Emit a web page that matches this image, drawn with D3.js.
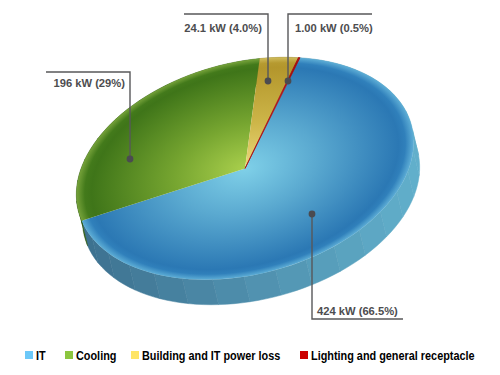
<!DOCTYPE html>
<html>
<head>
<meta charset="utf-8">
<script src="https://cdnjs.cloudflare.com/ajax/libs/d3/7.8.5/d3.min.js"></script>
<style>
  html, body { margin: 0; padding: 0; background: #fff; }
  text { font-family: "Liberation Sans", Arial, sans-serif; font-weight: bold; }
</style>
</head>
<body>
<svg id="chart" width="500" height="375"></svg>
<script>
// values
const categories = ['IT', 'Cooling', 'Building and IT power loss', 'Lighting and general receptacle'];
const kilowatts = [424, 196, 24.1, 1.00];
const valueLabels = ['424 kW (66.5%)', '196 kW (29%)', '24.1 kW (4.0%)', '1.00 kW (0.5%)'];

const legendColours = ['#6cc8f8', '#8cc63f', '#ffe566', '#cc0000'];
const sliceStops = [
  ['#7fd0e8', '#5aa9d0', '#2b78b4', '#3080bb', '#5eaed6'],
  ['#a9cf4c', '#76a530', '#3f7519', '#437a1b', '#76a23a'],
  ['#ecd97c', '#cdb548', '#b3962c', '#b69a30', '#d0bc5c'],
  ['#c01818', '#b00f14', '#a50a10', '#a50a10', '#b81c1c']
];
const sideLeft = ['#3c6f8e', '#2f5a14', '#8a7a28', '#7a0a0a'];
const sideRight = ['#62b0cc', '#4a7f20', '#a08c30', '#8a0a0a'];

const svg = d3.select('#chart');
const defs = svg.append('defs');

// tilted ellipse that the pie sits on
const cx = 245, cy = 168.5, rx = 172, ry = 106, tilt = -14.4;
const depthX = 6, depthY = 25;
const R = 100;

const pie = d3.pie().sort(null).startAngle(28 * Math.PI / 180).endAngle(388 * Math.PI / 180);
const slices = pie(kilowatts);
const arc = d3.arc().innerRadius(0).outerRadius(R);

const rad = tilt * Math.PI / 180;
const project = (angle, dx = 0, dy = 0) => {
  const u = Math.sin(angle) * rx, v = -Math.cos(angle) * ry;
  return [cx + u * Math.cos(rad) - v * Math.sin(rad) + dx,
          cy + u * Math.sin(rad) + v * Math.cos(rad) + dy];
};

// side wall, cut in facets so it shows the faint strips of the original
const facetStep = 11 * Math.PI / 180;
const facets = [];
slices.forEach((s, i) => {
  const n = Math.max(1, Math.ceil((s.endAngle - s.startAngle) / facetStep));
  d3.range(n).forEach(k => {
    const a0 = s.startAngle + (s.endAngle - s.startAngle) * k / n;
    const a1 = s.startAngle + (s.endAngle - s.startAngle) * (k + 1) / n;
    facets.push({ i, a0, a1 });
  });
});
const sideX = d3.scaleLinear().domain([cx - rx, cx + rx]).range([0, 1]).clamp(true);
const line = d3.line().curve(d3.curveLinear);
const facetColour = d => {
  const t = sideX(project((d.a0 + d.a1) / 2)[0]);
  return d3.interpolateRgb(sideLeft[d.i], sideRight[d.i])(t);
};
svg.append('g').selectAll('path').data(facets).join('path')
  .attr('d', d => {
    const pts = d3.range(0, 5).map(j => d.a0 + (d.a1 - d.a0) * j / 4);
    return line(pts.map(a => project(a)).concat(pts.slice().reverse().map(a => project(a, depthX, depthY)))) + 'Z';
  })
  .attr('fill', facetColour)
  .attr('stroke', facetColour)
  .attr('stroke-width', 0.5);

// top face
const stopAt = [0, 0.42, 0.91, 0.95, 1];
slices.forEach((s, i) => {
  const g = defs.append('radialGradient')
    .attr('id', 'slice' + i)
    .attr('gradientUnits', 'userSpaceOnUse')
    .attr('cx', 0).attr('cy', 0).attr('r', R);
  stopAt.forEach((o, k) => g.append('stop').attr('offset', o).attr('stop-color', sliceStops[i][k]));
});
svg.append('g')
  .attr('transform', `translate(${cx},${cy}) rotate(${tilt}) scale(${rx / R},${ry / R})`)
  .selectAll('path').data(slices).join('path')
  .attr('d', arc)
  .attr('fill', (d, i) => `url(#slice${i})`)
  // the red slice is too thin to show on its own
  .attr('stroke', (d, i) => i === 3 ? '#a50a10' : 'none')
  .attr('stroke-width', 0.5);

// callouts: [elbow path, dot, text anchor]
const callouts = [
  { label: valueLabels[2], path: [[184, 14], [268, 14], [268, 81]], text: [262, 31.5], anchor: 'end' },
  { label: valueLabels[3], path: [[372, 14], [288, 14], [288, 81]], text: [295, 31.5], anchor: 'start' },
  { label: valueLabels[1], path: [[46, 72], [130, 72], [130, 159]], text: [125, 87], anchor: 'end' },
  { label: valueLabels[0], path: [[403, 319], [312, 319], [312, 214]], text: [317, 314.5], anchor: 'start' }
];
const notes = svg.append('g').selectAll('g').data(callouts).join('g');
notes.append('path')
  .attr('d', d => line(d.path))
  .attr('fill', 'none')
  .attr('stroke', '#58585a')
  .attr('stroke-width', 1.4);
notes.append('circle')
  .attr('cx', d => d.path[2][0])
  .attr('cy', d => d.path[2][1])
  .attr('r', 3.4)
  .attr('fill', '#4b4b50');
notes.append('text')
  .attr('x', d => d.text[0])
  .attr('y', d => d.text[1])
  .attr('text-anchor', d => d.anchor)
  .attr('font-size', 11.2)
  .attr('fill', '#4d4d4f')
  .text(d => d.label);

// legend
const legendX = [25, 65, 131, 300];
const legend = svg.append('g').selectAll('g').data(categories).join('g')
  .attr('transform', (d, i) => `translate(${legendX[i]},351)`);
legend.append('rect')
  .attr('width', 8).attr('height', 8)
  .attr('fill', (d, i) => legendColours[i]);
legend.append('text')
  .attr('transform', 'translate(11,9) scale(0.87,1)')
  .attr('font-size', 12.5)
  .attr('fill', '#000')
  .text(d => d);
</script>
</body>
</html>
